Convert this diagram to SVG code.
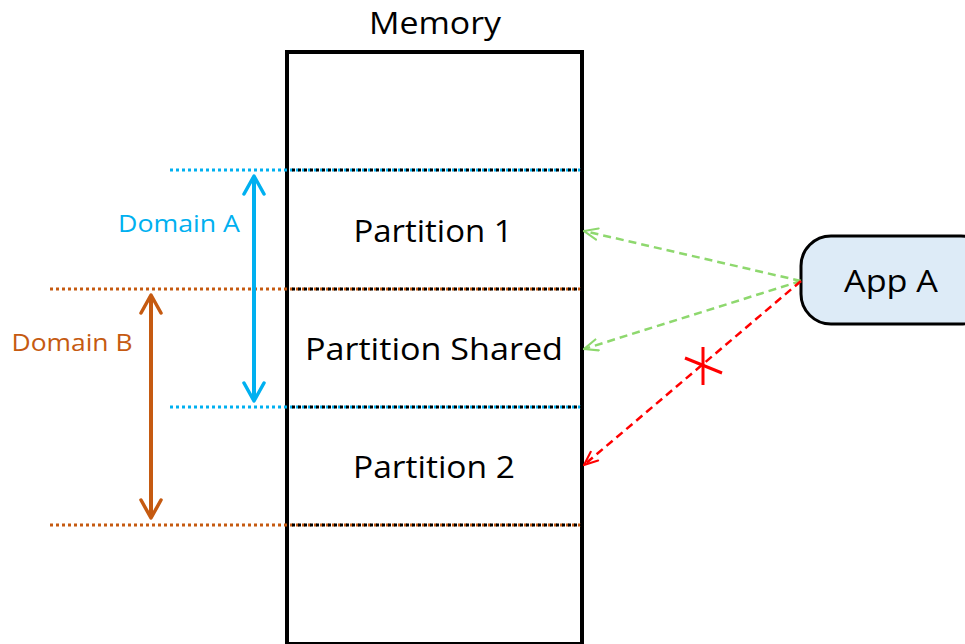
<svg xmlns="http://www.w3.org/2000/svg" width="965" height="644" viewBox="0 0 965 644">
<style>
.t{font-family:"Open Sans","Liberation Sans",sans-serif;fill:#000;text-anchor:middle}
.d{font-family:"Open Sans","Liberation Sans",sans-serif;font-size:23px;text-anchor:middle}
.dot{stroke-width:3;stroke-dasharray:3 3;fill:none}
.blk{stroke:#000;stroke-width:3;stroke-dasharray:3 3;stroke-dashoffset:3;fill:none}
</style>
<defs>
<marker id="hb" viewBox="0 0 24 24" refX="22" refY="12" markerWidth="24" markerHeight="24" markerUnits="userSpaceOnUse" orient="auto-start-reverse"><path d="M4,2 L22,12 L4,22" fill="none" stroke="#00B0F0" stroke-width="3.5" stroke-linecap="round" stroke-linejoin="round"/></marker>
<marker id="hr" viewBox="0 0 24 24" refX="22" refY="12" markerWidth="24" markerHeight="24" markerUnits="userSpaceOnUse" orient="auto-start-reverse"><path d="M4,2 L22,12 L4,22" fill="none" stroke="#C55A11" stroke-width="3.5" stroke-linecap="round" stroke-linejoin="round"/></marker>
<marker id="hg" viewBox="0 0 14 12" refX="13" refY="6" markerWidth="16" markerHeight="14" markerUnits="userSpaceOnUse" orient="auto"><path d="M1,1 L13,6 L1,11" fill="none" stroke="#8ED86E" stroke-width="1.8" stroke-linecap="round"/></marker>
<marker id="hx" viewBox="0 0 14 12" refX="13" refY="6" markerWidth="16" markerHeight="14" markerUnits="userSpaceOnUse" orient="auto"><path d="M1,1 L13,6 L1,11" fill="none" stroke="#FF0000" stroke-width="1.8" stroke-linecap="round"/></marker>
</defs>
<g id="memory">
<text class="t" x="435" y="34" font-size="31" textLength="132" lengthAdjust="spacingAndGlyphs">Memory</text>
<rect x="287" y="52" width="295" height="592" fill="#fff" stroke="#000" stroke-width="4"/>
</g>
<g id="partition-lines">
<line class="dot" x1="170" y1="170" x2="582" y2="170" stroke="#00B0F0"/>
<line class="blk" x1="289" y1="170" x2="582" y2="170"/>
<line class="dot" x1="50" y1="289" x2="582" y2="289" stroke="#C55A11"/>
<line class="blk" x1="289" y1="289" x2="582" y2="289"/>
<line class="dot" x1="170" y1="407" x2="582" y2="407" stroke="#00B0F0"/>
<line class="blk" x1="289" y1="407" x2="582" y2="407"/>
<line class="dot" x1="50" y1="525" x2="582" y2="525" stroke="#C55A11"/>
<line class="blk" x1="289" y1="525" x2="582" y2="525"/>
</g>
<g id="partition-1"><text class="t" x="433" y="242" font-size="31" textLength="159" lengthAdjust="spacingAndGlyphs">Partition 1</text></g>
<g id="partition-shared"><text class="t" x="434" y="360" font-size="31" textLength="258" lengthAdjust="spacingAndGlyphs">Partition Shared</text></g>
<g id="partition-2"><text class="t" x="434" y="478" font-size="31" textLength="162" lengthAdjust="spacingAndGlyphs">Partition 2</text></g>
<g id="domain-a"><text class="d" x="179" y="232" fill="#00B0F0" textLength="122" lengthAdjust="spacingAndGlyphs">Domain A</text></g>
<g id="domain-b"><text class="d" x="72" y="351" fill="#C55A11" textLength="121" lengthAdjust="spacingAndGlyphs">Domain B</text></g>
<g id="app-a">
<rect x="801" y="236" width="190" height="88" rx="30" fill="#DDEBF7" stroke="#000" stroke-width="3"/>
<text class="t" x="891" y="292" font-size="31" textLength="94" lengthAdjust="spacingAndGlyphs">App A</text>
</g>
<g id="connectors">
<line x1="254" y1="176" x2="254" y2="401" stroke="#00B0F0" stroke-width="4" marker-start="url(#hb)" marker-end="url(#hb)"/>
<line x1="151" y1="295" x2="151" y2="518" stroke="#C55A11" stroke-width="4" marker-start="url(#hr)" marker-end="url(#hr)"/>
<line x1="801" y1="281" x2="584" y2="231" stroke="#8ED86E" stroke-width="2.5" stroke-dasharray="8 5" marker-end="url(#hg)"/>
<line x1="801" y1="281" x2="584" y2="349" stroke="#8ED86E" stroke-width="2.5" stroke-dasharray="8 5" marker-end="url(#hg)"/>
<line x1="801" y1="281" x2="584" y2="465" stroke="#FF0000" stroke-width="2.5" stroke-dasharray="8 5" marker-end="url(#hx)"/>
<line x1="703" y1="347" x2="703" y2="385" stroke="#FF0000" stroke-width="3"/>
<line x1="685" y1="358" x2="722" y2="373" stroke="#FF0000" stroke-width="3"/>
</g>
</svg>
